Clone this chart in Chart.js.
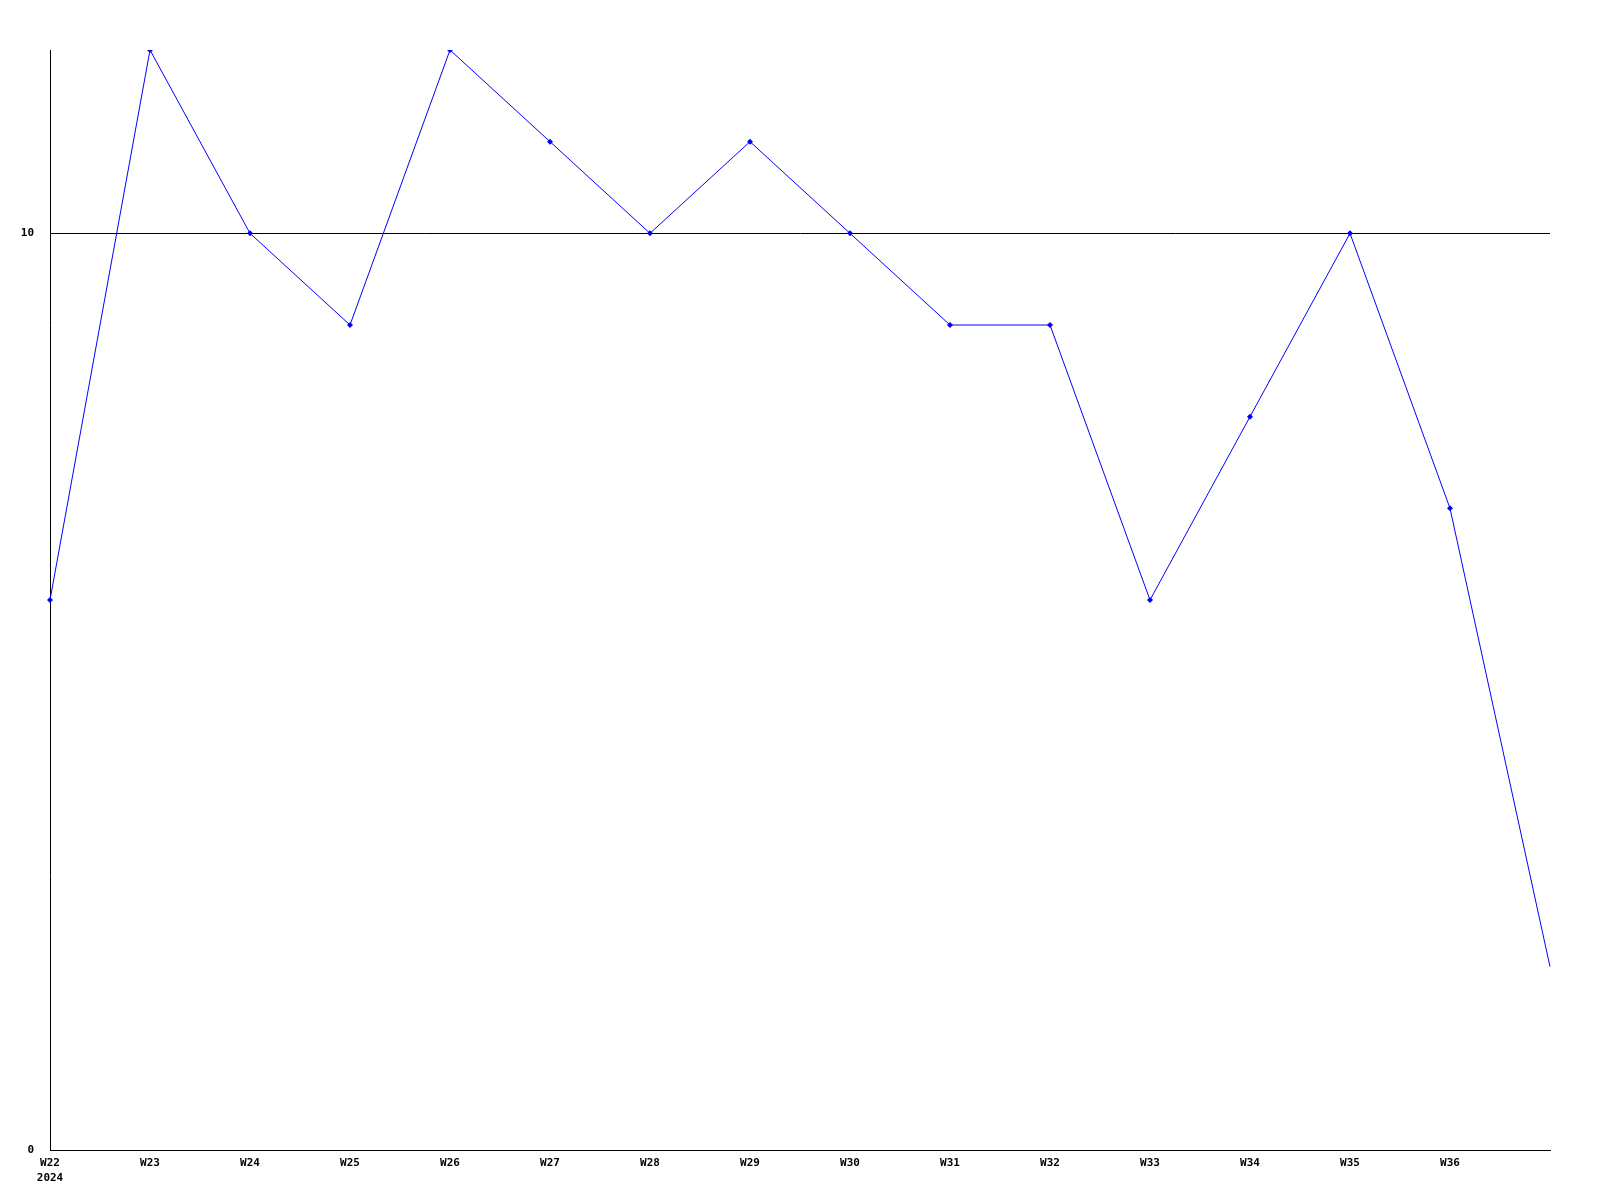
<!DOCTYPE html>
<html>
<head>
<meta charset="utf-8">
<script src="https://cdn.jsdelivr.net/npm/chart.js@4/dist/chart.umd.min.js"></script>
<style>
    html, body { margin: 0; padding: 0; background: #fff; }
    #wrap { width: 1600px; height: 1200px; }
</style>
</head>
<body>
<div id="wrap"><canvas id="weekChart" width="1600" height="1200"></canvas></div>
<script>
// weekly values, 2024
const weeks = [["W22", "2024"], "W23", "W24", "W25", "W26", "W27", "W28", "W29", "W30", "W31", "W32", "W33", "W34", "W35", "W36", ""];
const counts = [6, 12, 10, 9, 12, 11, 10, 11, 10, 9, 9, 6, 8, 10, 7, 2];
const yTicks = [0, 10];

const tickFont = { family: "'DejaVu Sans Mono', monospace", size: 11, weight: "bold", lineHeight: 1.35 };

new Chart(document.getElementById("weekChart"), {
    type: "line",
    data: {
        labels: weeks,
        datasets: [
            {
                data: counts,
                borderColor: "#0000ff",
                backgroundColor: "#0000ff",
                borderWidth: 1,
                tension: 0,
                fill: false,
                pointStyle: "rectRot",
                pointRadius: counts.map((v, i) => (i === counts.length - 1 ? 0 : 3)),
                pointBorderWidth: 0,
            },
        ],
    },
    options: {
        responsive: false,
        animation: false,
        layout: {
            padding: { top: 50, right: 50, left: 0, bottom: 0 },
        },
        plugins: {
            legend: { display: false },
            tooltip: { enabled: false },
        },
        scales: {
            x: {
                offset: false,
                grid: { display: false, drawTicks: false },
                border: { display: true, color: "#000", width: 1 },
                ticks: {
                    color: "#000",
                    font: tickFont,
                    autoSkip: false,
                    maxRotation: 0,
                    padding: 6,
                },
                afterFit: (axis) => { axis.height = 50; },
            },
            y: {
                min: 0,
                max: 12,
                afterBuildTicks: (axis) => {
                    axis.ticks = yTicks.map((v) => ({ value: v }));
                },
                grid: {
                    color: "#000",
                    drawTicks: false,
                    lineWidth: 1,
                },
                border: { display: true, color: "#000", width: 1 },
                ticks: {
                    color: "#000",
                    font: tickFont,
                    padding: 16,
                },
                afterFit: (axis) => { axis.width = 50; },
            },
        },
    },
});
</script>
</body>
</html>
